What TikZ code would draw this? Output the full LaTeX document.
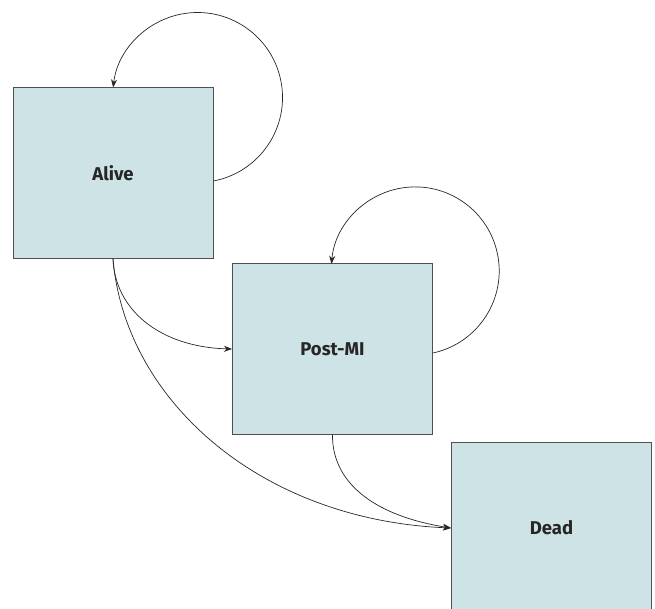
\documentclass[tikz,border=0pt]{standalone}
\usepackage{fontspec}
\setmainfont{Fira Sans}
\usetikzlibrary{arrows.meta}
\definecolor{boxfill}{RGB}{206,227,230}
\definecolor{boxline}{RGB}{80,80,80}
\tikzset{
  state/.style={draw=boxline, line width=0.9pt, fill=boxfill, minimum width=200pt, minimum height=171pt, inner sep=0pt, font=\fontsize{18.5}{22}\selectfont\bfseries, text=black!85},
  conn/.style={line width=0.7pt, draw=black!85, -{Stealth[length=8pt,width=6pt,inset=2.5pt]}}
}
\begin{document}
\begin{tikzpicture}[x=1pt,y=1pt]
\useasboundingbox (0,0) rectangle (655,-609);
\node[state] (alive) at (113,-173) {Alive};
\node[state] (post) at (332.5,-349) {Post-MI};
\node[state] (dead) at (551.5,-528) {Dead};
% self loops
\draw[conn] ([yshift=-8pt]alive.east) arc[start angle=-79.2, end angle=173.2, radius=85pt];
\draw[conn] ([yshift=-4pt]post.east) arc[start angle=-77.8, end angle=175.2, radius=84pt];
% transitions
\draw[conn] (alive.south) .. controls (115,-310) and (160,-347) .. (post.west);
\draw[conn] (alive.south) .. controls (125,-400) and (260,-520) .. (dead.west);
\draw[conn] (post.south) .. controls (332,-480) and (370,-515) .. (dead.west);
\end{tikzpicture}
\end{document}
